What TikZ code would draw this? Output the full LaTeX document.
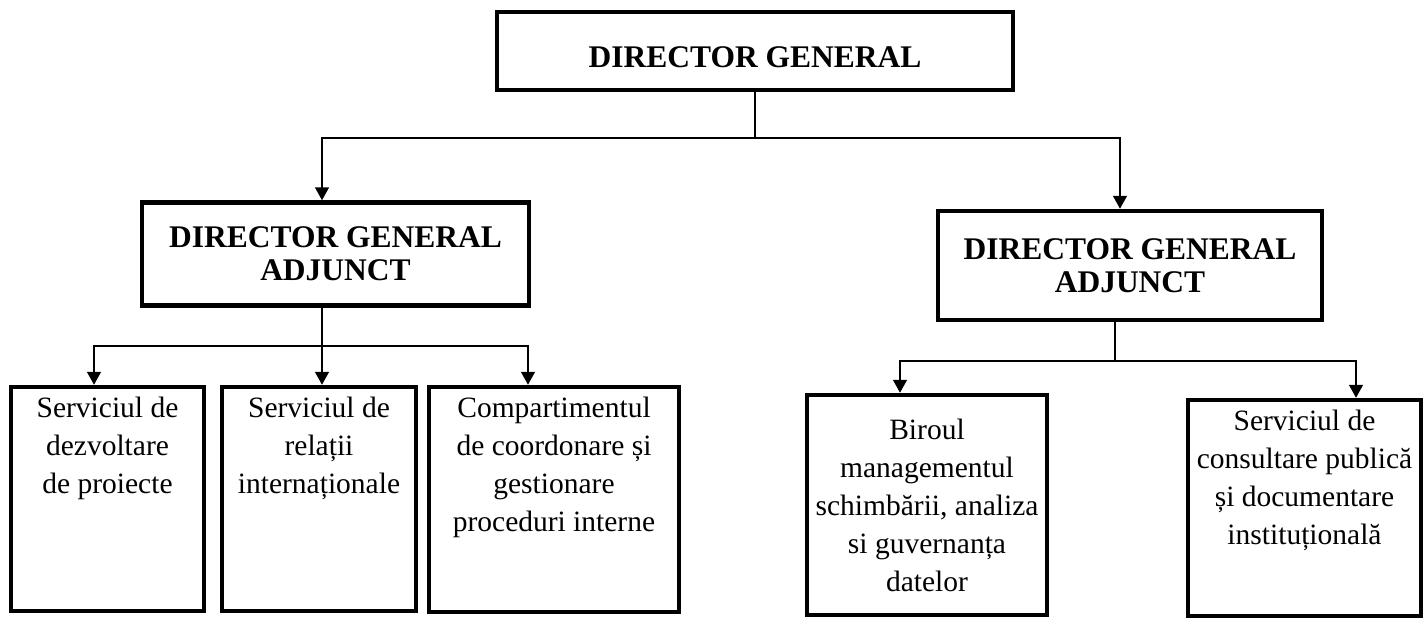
\documentclass[tikz,border=0pt]{standalone}
\usepackage{fontspec}
\setmainfont{Liberation Serif}
\usetikzlibrary{arrows.meta}

\newcommand\unittop[3]{\parbox[c][#2][t]{#1}{\centering\vspace*{10pt}#3}}
\newcommand\unitmid[3]{\parbox[c][#2][c]{#1}{\centering #3}}

\begin{document}
\begin{tikzpicture}[x=1pt,y=-1pt,
    head/.style={draw,line width=4.5pt,inner sep=0pt,align=center,
      font=\fontsize{31.5}{33}\selectfont\bfseries},
    unit/.style={draw,line width=4.5pt,inner sep=0pt,
      font=\fontsize{29.5}{38}\selectfont},
    link/.style={line width=1.5pt},
    arr/.style={link,-{Triangle[width=14pt,length=13pt]}}]
  \useasboundingbox (0,0) rectangle (1423,619);

  \node[head,minimum width=516pt,minimum height=78pt,text height=33pt] (dg) at (755,51) {DIRECTOR GENERAL};
  \node[head,minimum width=387pt,minimum height=103pt] (dga1) at (335.5,254) {DIRECTOR GENERAL\\ADJUNCT};
  \node[head,minimum width=384pt,minimum height=109pt] (dga2) at (1130,265.5) {DIRECTOR GENERAL\\ADJUNCT};

  \node[unit] (s1) at (107.5,499) {\unittop{193pt}{224pt}{Serviciul de\\dezvoltare\\de proiecte}};
  \node[unit] (s2) at (319,499) {\unittop{194pt}{224pt}{Serviciul de\\relații\\internaționale}};
  \node[unit] (s3) at (554,499.5) {\unittop{250pt}{225pt}{Compartimentul\\de coordonare și\\gestionare\\proceduri interne}};
  \node[unit] (s4) at (927,505) {\unitmid{240pt}{220pt}{Biroul\\managementul\\schimbării, analiza\\si guvernanța\\datelor}};
  \node[unit] (s5) at (1304.5,508) {\unittop{233pt}{216pt}{Serviciul de\\consultare publică\\și documentare\\instituțională}};

  \coordinate (j0) at (755,138);
  \draw[link] (dg.south) -- (j0);
  \draw[arr] (j0) -| ([xshift=-13.5pt]dga1.north);
  \draw[arr] (j0) -| ([xshift=-10pt]dga2.north);

  \coordinate (j1) at (322,346);
  \draw[link] ([xshift=-13.5pt]dga1.south) -- (j1);
  \draw[arr] (j1) -| ([xshift=-13.5pt]s1.north);
  \draw[arr] (j1) -- (j1 |- s2.north);
  \draw[arr] (j1) -| ([xshift=-26pt]s3.north);

  \coordinate (j2) at (1115,361);
  \draw[link] ([xshift=-15pt]dga2.south) -- (j2);
  \draw[arr] (j2) -| ([xshift=-27pt]s4.north);
  \draw[arr] (j2) -| ([xshift=51.5pt]s5.north);
\end{tikzpicture}
\end{document}
